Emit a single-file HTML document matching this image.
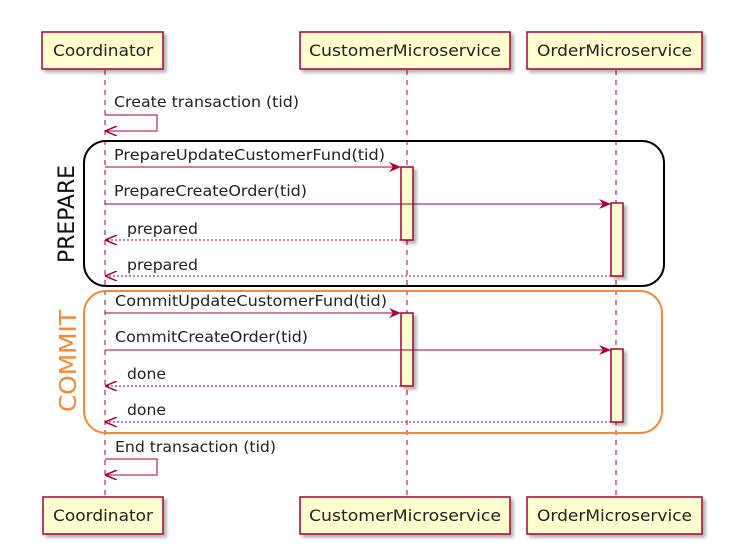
<!DOCTYPE html>
<html><head><meta charset="utf-8"><style>
html,body{margin:0;padding:0;background:#fff;width:751px;height:556px;overflow:hidden}
text{font-family:"DejaVu Sans","Liberation Sans",sans-serif}
</style></head><body>
<svg width="751" height="556" viewBox="0 0 751 556" xmlns="http://www.w3.org/2000/svg">
<defs>
<filter id="sh" x="-10%" y="-10%" width="130%" height="140%"><feDropShadow dx="3" dy="3" stdDeviation="1.5" flood-color="#000" flood-opacity="0.3"/></filter>
<marker id="ah" viewBox="0 0 12 10" refX="11" refY="5" markerWidth="12" markerHeight="10" markerUnits="userSpaceOnUse" orient="auto"><path d="M0,0 L12,5 L0,10 L4,5 Z" fill="#A80036"/></marker>
<marker id="oa" viewBox="0 0 12 10" refX="11" refY="5" markerWidth="12" markerHeight="10" markerUnits="userSpaceOnUse" orient="auto"><path d="M0,0 L12,5 L0,10" fill="none" stroke="#A80036" stroke-width="1.5"/></marker>
</defs>
<g stroke="#A80036" stroke-width="1" stroke-dasharray="5,5">
<line x1="105" y1="70" x2="105" y2="497"/>
<line x1="407" y1="70" x2="407" y2="497"/>
<line x1="616" y1="70" x2="616" y2="497"/>
</g>
<g fill="#FEFECE" stroke="#A80036" stroke-width="1.5" filter="url(#sh)">
<rect x="42" y="32" width="121" height="37"/>
<rect x="300" y="32" width="210" height="37"/>
<rect x="527" y="32" width="175" height="37"/>
<rect x="43" y="497" width="120" height="37"/>
<rect x="300" y="497" width="210" height="37"/>
<rect x="527" y="497" width="175" height="37"/>
<rect x="401" y="167" width="12" height="73"/>
<rect x="611" y="203" width="12" height="73"/>
<rect x="401" y="313" width="12" height="73"/>
<rect x="611" y="349" width="12" height="73"/>
</g>
<g font-size="16" fill="#222" lengthAdjust="spacingAndGlyphs">
<text x="53" y="56" textLength="100" lengthAdjust="spacingAndGlyphs">Coordinator</text>
<text x="309" y="56" textLength="192" lengthAdjust="spacingAndGlyphs">CustomerMicroservice</text>
<text x="537" y="56" textLength="155" lengthAdjust="spacingAndGlyphs">OrderMicroservice</text>
<text x="53" y="521" textLength="100" lengthAdjust="spacingAndGlyphs">Coordinator</text>
<text x="309" y="521" textLength="192" lengthAdjust="spacingAndGlyphs">CustomerMicroservice</text>
<text x="537" y="521" textLength="155" lengthAdjust="spacingAndGlyphs">OrderMicroservice</text>
</g>
<rect x="84" y="141" width="580" height="145" rx="22" fill="none" stroke="#000" stroke-width="2"/>
<rect x="84" y="291" width="578" height="142" rx="22" fill="none" stroke="#F58A33" stroke-width="2"/>
<text transform="translate(74,214) rotate(-90)" text-anchor="middle" font-size="22" fill="#111" textLength="98" lengthAdjust="spacingAndGlyphs">PREPARE</text>
<text transform="translate(76,361) rotate(-90)" text-anchor="middle" font-size="23" fill="#F58A33" textLength="102" lengthAdjust="spacingAndGlyphs">COMMIT</text>
<g stroke="#A80036" stroke-width="1" fill="none">
<polyline points="105,115 157,115 157,131 106,131" marker-end="url(#oa)"/>
<line x1="105" y1="167" x2="400" y2="167" marker-end="url(#ah)"/>
<line x1="105" y1="204" x2="610" y2="204" marker-end="url(#ah)"/>
<line x1="401" y1="240" x2="106" y2="240" stroke-dasharray="2,2" marker-end="url(#oa)"/>
<line x1="611" y1="276" x2="106" y2="276" stroke-dasharray="2,2" marker-end="url(#oa)"/>
<line x1="105" y1="313" x2="400" y2="313" marker-end="url(#ah)"/>
<line x1="105" y1="350" x2="610" y2="350" marker-end="url(#ah)"/>
<line x1="401" y1="386" x2="106" y2="386" stroke-dasharray="2,2" marker-end="url(#oa)"/>
<line x1="611" y1="422" x2="106" y2="422" stroke-dasharray="2,2" marker-end="url(#oa)"/>
<polyline points="105,459 157,459 157,475 106,475" marker-end="url(#oa)"/>
</g>
<g font-size="15" fill="#222">
<text x="114" y="107" textLength="185" lengthAdjust="spacingAndGlyphs">Create transaction (tid)</text>
<text x="114" y="160" textLength="271" lengthAdjust="spacingAndGlyphs">PrepareUpdateCustomerFund(tid)</text>
<text x="114" y="196" textLength="193" lengthAdjust="spacingAndGlyphs">PrepareCreateOrder(tid)</text>
<text x="127" y="234" textLength="71" lengthAdjust="spacingAndGlyphs">prepared</text>
<text x="127" y="270" textLength="71" lengthAdjust="spacingAndGlyphs">prepared</text>
<text x="115" y="306" textLength="272" lengthAdjust="spacingAndGlyphs">CommitUpdateCustomerFund(tid)</text>
<text x="115" y="342" textLength="193" lengthAdjust="spacingAndGlyphs">CommitCreateOrder(tid)</text>
<text x="127" y="379" textLength="39" lengthAdjust="spacingAndGlyphs">done</text>
<text x="127" y="415" textLength="39" lengthAdjust="spacingAndGlyphs">done</text>
<text x="115" y="452" textLength="161" lengthAdjust="spacingAndGlyphs">End transaction (tid)</text>
</g>
</svg>
</body></html>
